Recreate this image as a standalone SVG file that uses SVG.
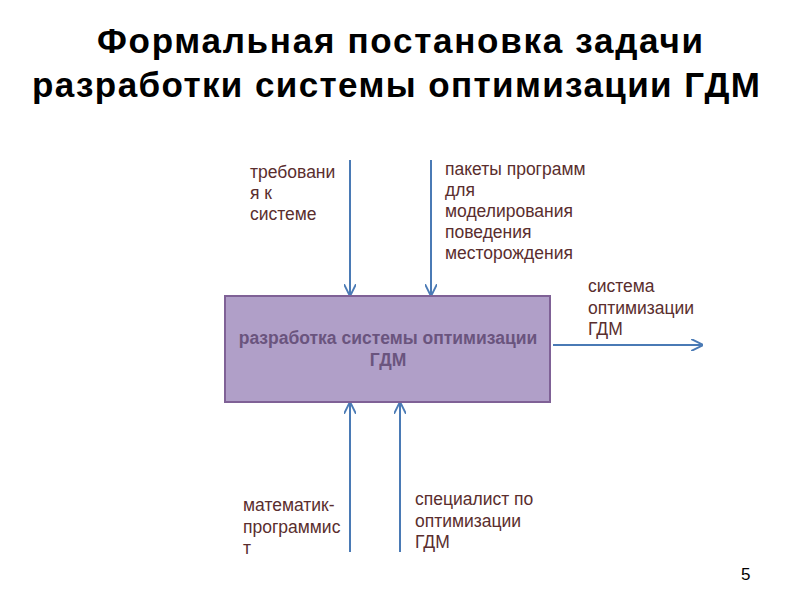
<svg xmlns="http://www.w3.org/2000/svg" width="800" height="600" viewBox="0 0 800 600">
<style>
.title{font-family:"Liberation Sans",Arial,sans-serif;font-weight:bold;font-size:35px;fill:#000;text-anchor:middle}
.lbl{font-family:"Liberation Sans",Arial,sans-serif;font-size:17.5px;fill:#5a2e2e}
.box{fill:#b09fc8;stroke:#7f6196;stroke-width:2}
.boxt{font-family:"Liberation Sans",Arial,sans-serif;font-weight:bold;font-size:17.5px;fill:#6a547e;text-anchor:middle}
.arr{stroke:#4a7ab5;stroke-width:2;fill:none;marker-end:url(#ah)}
.num{font-family:"Liberation Sans",Arial,sans-serif;font-size:17px;fill:#000}
</style>
<defs>
<marker id="ah" viewBox="0 0 10 10" refX="9" refY="5" markerWidth="6" markerHeight="6" orient="auto" markerUnits="strokeWidth">
<path d="M0,0 L10,5 L0,10" fill="none" stroke="#4a7ab5" stroke-width="1.6"/>
</marker>
</defs>
<rect width="800" height="600" fill="#fff"/>
<g id="title">
<text class="title" x="400" y="53" textLength="606" lengthAdjust="spacing">Формальная постановка задачи</text>
<text class="title" x="396" y="97" textLength="728" lengthAdjust="spacing">разработки системы оптимизации ГДМ</text>
</g>
<g id="connectors">
<line class="arr" x1="350" y1="160" x2="350" y2="295"/>
<line class="arr" x1="431" y1="160" x2="431" y2="295"/>
<line class="arr" x1="350" y1="552" x2="350" y2="403"/>
<line class="arr" x1="400" y1="552" x2="400" y2="403"/>
<line class="arr" x1="553" y1="345" x2="702" y2="345"/>
</g>
<g id="node-main">
<rect class="box" x="225" y="296" width="325" height="106"/>
<text class="boxt" x="388" y="344">разработка системы оптимизации</text>
<text class="boxt" x="388" y="366">ГДМ</text>
</g>
<g id="label-req">
<text class="lbl" x="250" y="178">требовани</text>
<text class="lbl" x="250" y="199">я к</text>
<text class="lbl" x="250" y="220">системе</text>
</g>
<g id="label-pkg">
<text class="lbl" x="445" y="175">пакеты программ</text>
<text class="lbl" x="445" y="196">для</text>
<text class="lbl" x="445" y="217">моделирования</text>
<text class="lbl" x="445" y="238">поведения</text>
<text class="lbl" x="445" y="259">месторождения</text>
</g>
<g id="label-out">
<text class="lbl" x="588" y="292">система</text>
<text class="lbl" x="588" y="314">оптимизации</text>
<text class="lbl" x="588" y="335">ГДМ</text>
</g>
<g id="label-math">
<text class="lbl" x="243" y="511">математик-</text>
<text class="lbl" x="243" y="533">программис</text>
<text class="lbl" x="243" y="554">т</text>
</g>
<g id="label-spec">
<text class="lbl" x="415" y="505">специалист по</text>
<text class="lbl" x="415" y="527">оптимизации</text>
<text class="lbl" x="415" y="548">ГДМ</text>
</g>
<text class="num" x="741" y="580">5</text>
</svg>
